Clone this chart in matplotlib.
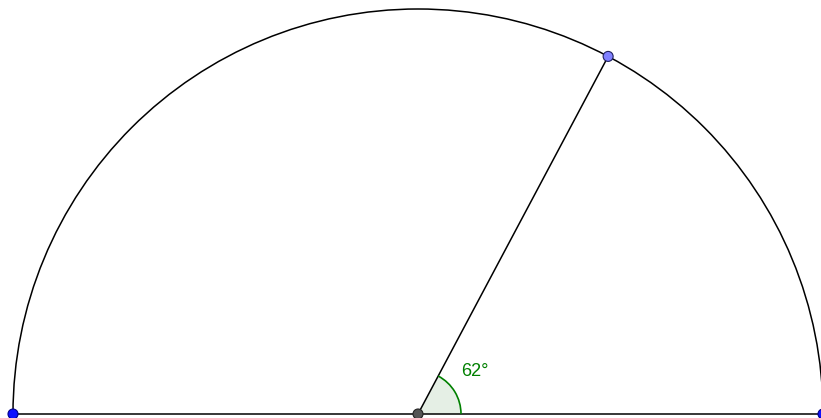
import numpy as np
import matplotlib.pyplot as plt
from matplotlib.patches import Arc, Wedge, Circle

# geometry (pixel-like units, centre of the semicircle at the origin)
radius = 405
angle_deg = 62
angle_marker_r = 43
angle_label = "62°"

theta = np.radians(angle_deg)
px, py = radius * np.cos(theta), radius * np.sin(theta)

fig = plt.figure(figsize=(8.21, 4.18), dpi=100)
ax = fig.add_axes([0, 0, 1, 1])
ax.set_xlim(-418, 403)
ax.set_ylim(-4, 414)
ax.set_aspect("equal")
ax.axis("off")

# semicircle and diameter
ax.add_patch(Arc((0, 0), 2 * radius, 2 * radius, theta1=0, theta2=180,
                 color="black", lw=1.1, zorder=2))
ax.plot([-radius, radius], [0, 0], color="black", lw=1.1, zorder=2)

# radius to the point on the circle
ax.plot([0, px], [0, py], color="black", lw=1.1, zorder=2)

# angle marker
ax.add_patch(Wedge((0, 0), angle_marker_r, 0, angle_deg,
                   facecolor="#006400", alpha=0.1, edgecolor="none", zorder=1))
ax.add_patch(Arc((0, 0), 2 * angle_marker_r, 2 * angle_marker_r,
                 theta1=0, theta2=angle_deg, color="#008000", lw=1.2, zorder=3))
ax.text(43, 42, angle_label, color="#008000", fontsize=13,
        ha="left", va="center", family="Liberation Sans")

# points
ax.add_patch(Circle((-radius, 0), 5, facecolor="#1010ff", edgecolor="#00008b",
                    lw=0.8, zorder=5))
ax.add_patch(Circle((radius, 0), 5, facecolor="#1010ff", edgecolor="#00008b",
                    lw=0.8, zorder=5))
ax.add_patch(Circle((px, py), 5, facecolor="#8080ff", edgecolor="#202060",
                    lw=0.8, zorder=5))
ax.add_patch(Circle((0, 0), 5, facecolor="#555555", edgecolor="#222222",
                    lw=0.8, zorder=5))

fig.savefig("out.png", dpi=100)
